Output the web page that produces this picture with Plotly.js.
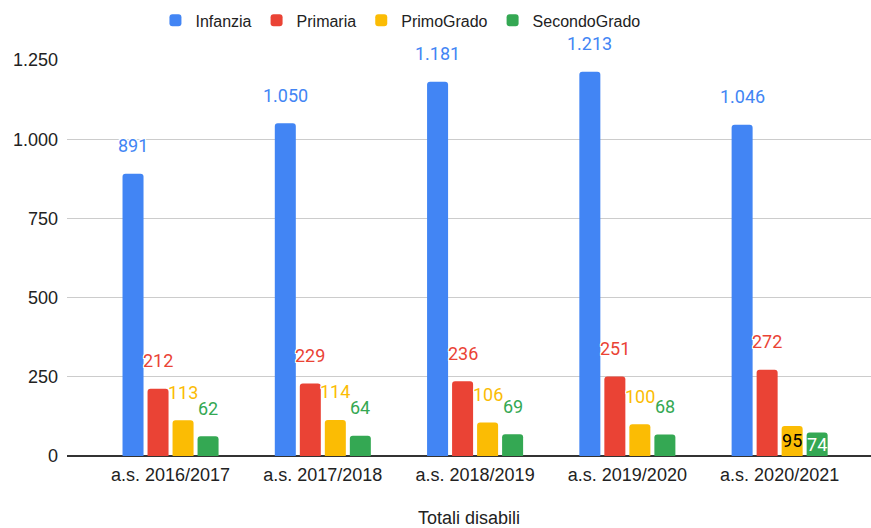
<!DOCTYPE html>
<html>
<head>
<meta charset="utf-8">
<script src="https://cdn.plot.ly/plotly-3.0.1.min.js"></script>
<style>
html,body{margin:0;padding:0;background:#fff;}
#chart{width:871px;height:528px;}
</style>
</head>
<body>
<div id="chart"></div>
<script>
// ---- data ----
var categories = ["a.s. 2016/2017", "a.s. 2017/2018", "a.s. 2018/2019", "a.s. 2019/2020", "a.s. 2020/2021"];
var seriesNames = ["Infanzia", "Primaria", "PrimoGrado", "SecondoGrado"];
var infanzia     = [891, 1050, 1181, 1213, 1046];
var primaria     = [212, 229, 236, 251, 272];
var primoGrado   = [113, 114, 106, 100, 95];
var secondoGrado = [62, 64, 69, 68, 74];
// which value labels sit inside the bar (as in the reference)
var labelInside = [
  [false, false, false, false, false],
  [false, false, false, false, false],
  [false, false, false, false, true],
  [false, false, false, false, true]
];

// ---- style ----
var colors = ["#4285F4", "#EA4335", "#FBBC04", "#34A853"];
var insideTextColors = ["#ffffff", "#ffffff", "#000000", "#ffffff"];
var W = 871, H = 528;
var margin = {l: 67, r: 0, t: 60, b: 72};
var xRange = [-0.68, 4.6];
var bargap = 0.343, bargroupgap = 0.16;

function fmt(v) {
  var s = String(Math.round(v));
  return s.replace(/\B(?=(\d{3})+(?!\d))/g, ".");
}

var values = [infanzia, primaria, primoGrado, secondoGrado];
var halo = "1px 1px 0 #fff, -1px -1px 0 #fff, 1px -1px 0 #fff, -1px 1px 0 #fff, 0 1px 0 #fff, 0 -1px 0 #fff, 1px 0 0 #fff, -1px 0 0 #fff";

var traces = values.map(function (vals, s) {
  return {
    type: "bar",
    name: seriesNames[s],
    x: categories,
    y: vals,
    marker: {color: colors[s]},
    text: vals.map(function (v, i) { return labelInside[s][i] ? fmt(v) : ""; }),
    textposition: "inside",
    insidetextanchor: "middle",
    constraintext: "none",
    insidetextfont: {family: "Roboto", size: 18, color: insideTextColors[s]},
    hoverinfo: "none"
  };
});

var plotW = W - margin.l - margin.r;
var pxPerCat = plotW / (xRange[1] - xRange[0]);
var slotPx = pxPerCat * (1 - bargap) / values.length;

var annotations = [];
values.forEach(function (vals, s) {
  vals.forEach(function (v, i) {
    if (labelInside[s][i]) return;
    annotations.push({
      x: categories[i], y: v, xref: "x", yref: "y",
      text: fmt(v), showarrow: false,
      xshift: (s - (values.length - 1) / 2) * slotPx,
      yshift: 28, yanchor: "middle", xanchor: "center",
      font: {family: "Roboto", size: 18, color: colors[s], shadow: halo}
    });
  });
});

var layout = {
  width: W, height: H,
  margin: margin,
  paper_bgcolor: "#fff", plot_bgcolor: "#fff",
  separators: ",.",
  barmode: "group",
  bargap: bargap, bargroupgap: bargroupgap,
  barcornerradius: 3,
  font: {family: "Liberation Sans, Arial, sans-serif", size: 18, color: "#222"},
  showlegend: true,
  legend: {
    orientation: "h", x: 0.11, xanchor: "left", y: 1.1, yanchor: "middle",
    font: {family: "Liberation Sans, Arial, sans-serif", size: 16, color: "#222"},
    traceorder: "normal"
  },
  xaxis: {
    type: "category", range: xRange, fixedrange: true,
    showgrid: false, showline: false, ticks: "",
    tickfont: {size: 18, color: "#222"},
    ticklabelstandoff: 6,
    title: {text: "Totali disabili", font: {size: 18, color: "#222"}, standoff: 30}
  },
  yaxis: {
    range: [0, 1250], dtick: 250, tick0: 0, fixedrange: true,
    gridcolor: "#cccccc", gridwidth: 1,
    zeroline: true, zerolinecolor: "#333333", zerolinewidth: 1.5,
    showline: false, ticks: "",
    tickformat: ",d",
    tickfont: {size: 18, color: "#222"},
    ticklabelstandoff: 8
  },
  annotations: annotations
};

Plotly.newPlot("chart", traces, layout, {displayModeBar: false, staticPlot: true});
</script>
</body>
</html>
